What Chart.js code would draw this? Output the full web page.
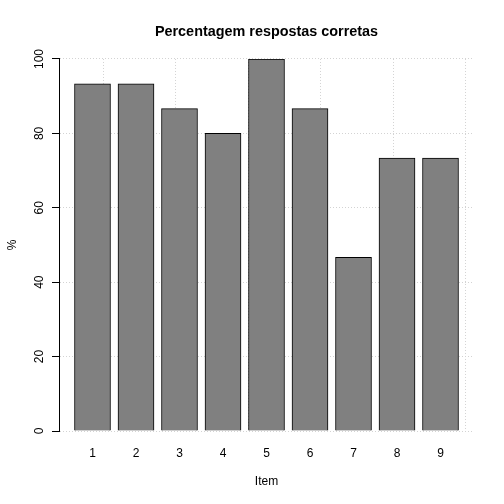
<!DOCTYPE html>
<html>
<head>
    <style>
        body { margin: 0; padding: 0; background: #fff; }
        #wrap { width: 504px; height: 504px; }
    </style>
</head>
<body>
    <div id="wrap"><canvas id="barChart"></canvas></div>

    <script src="https://cdn.jsdelivr.net/npm/chart.js"></script>
    <script>
const items = ["1", "2", "3", "4", "5", "6", "7", "8", "9"];
const percentCorrect = [93.33, 93.33, 86.67, 80, 100, 86.67, 46.67, 73.33, 73.33];
const yTicks = [0, 20, 40, 60, 80, 100];
const xGridAt = [0, 2, 4, 6, 8, 10];

// barplot layout: width 1, space 0.2, range padded 4% each side
const barSpace = 0.2;
const span = items.length * (1 + barSpace);
const xMin = barSpace - 0.04 * (span - barSpace);
const xMax = span + 0.04 * (span - barSpace);
const centers = items.map((_, i) => barSpace + 0.5 + i * (1 + barSpace));

const font = "'Liberation Sans', Arial, sans-serif";
const gridColor = '#d3d3d3';

const ctx = document.getElementById('barChart').getContext('2d');
new Chart(ctx, {
    type: 'bar',
    data: {
        datasets: [{
            data: percentCorrect.map((v, i) => ({ x: centers[i], y: v })),
            backgroundColor: '#808080',
            borderColor: '#000',
            borderWidth: 1,
            barThickness: 36
        }]
    },
    options: {
        responsive: true,
        maintainAspectRatio: false,
        animation: false,
        layout: { padding: { right: 30 } },
        plugins: {
            legend: { display: false },
            tooltip: { enabled: false },
            title: {
                display: true,
                text: 'Percentagem respostas corretas',
                fullSize: false,
                color: '#000',
                font: { family: font, size: 14.4, weight: 'bold' },
                padding: { top: 23, bottom: 18.7 }
            }
        },
        scales: {
            x: {
                type: 'linear',
                offset: false,
                min: xMin,
                max: xMax,
                z: 1,
                afterBuildTicks: s => { s.ticks = centers.map(v => ({ value: v })); },
                afterFit: s => { s.height = 73; },
                grid: { display: false, drawTicks: false },
                border: { display: false },
                ticks: {
                    autoSkip: false,
                    maxRotation: 0,
                    padding: 15,
                    color: '#000',
                    font: { family: font, size: 12 },
                    callback: (v, i) => items[i]
                },
                title: {
                    display: true,
                    text: 'Item',
                    color: '#000',
                    font: { family: font, size: 12 },
                    padding: { top: 0, bottom: 15 }
                }
            },
            xg: {
                type: 'linear',
                position: 'bottom',
                offset: false,
                min: xMin,
                max: xMax,
                z: 1,
                afterBuildTicks: s => { s.ticks = xGridAt.map(v => ({ value: v })); },
                afterFit: s => { s.height = 0; },
                grid: { color: gridColor, drawTicks: false },
                border: { display: false, dash: [1, 2] },
                ticks: { display: false }
            },
            y: {
                min: 0,
                max: 100,
                z: 1,
                afterBuildTicks: s => { s.ticks = yTicks.map(v => ({ value: v })); },
                afterFit: s => { s.width = 59; },
                grid: {
                    color: gridColor,
                    drawTicks: true,
                    tickLength: 7,
                    tickColor: '#000',
                    tickWidth: 1,
                    tickBorderDash: []
                },
                border: { display: true, color: '#000', width: 1, dash: [1, 2] },
                ticks: {
                    minRotation: 90,
                    maxRotation: 90,
                    crossAlign: 'center',
                    padding: 2,
                    color: '#000',
                    font: { family: font, size: 12 }
                },
                title: {
                    display: true,
                    text: '%',
                    color: '#000',
                    font: { family: font, size: 12 },
                    padding: { top: 5, bottom: 0 }
                }
            }
        }
    }
});
    </script>
</body>
</html>
